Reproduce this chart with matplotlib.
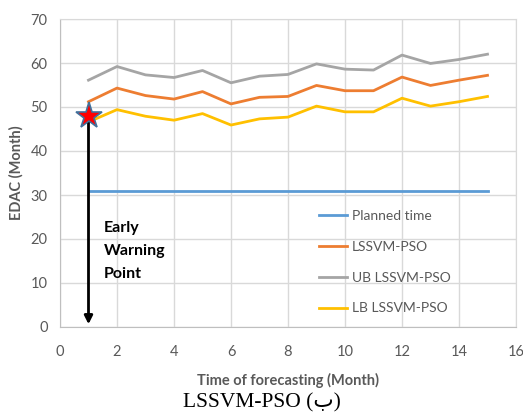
import matplotlib
matplotlib.use("Agg")
import matplotlib.pyplot as plt

months = list(range(1, 16))
planned = [31] * 15
lssvm = [51.2, 54.3, 52.6, 51.8, 53.5, 50.7, 52.2, 52.4, 54.9, 53.7, 53.7, 56.8, 54.9, 56.1, 57.2]
ub = [56.1, 59.2, 57.3, 56.7, 58.3, 55.5, 57.0, 57.4, 59.8, 58.6, 58.4, 61.8, 59.9, 60.8, 62.0]
lb = [46.6, 49.4, 47.9, 47.0, 48.5, 45.9, 47.3, 47.7, 50.2, 48.9, 48.9, 52.0, 50.2, 51.2, 52.4]
warn_x, warn_y = 1, 47.9
xticks = list(range(0, 17, 2))
yticks = list(range(0, 71, 10))

plt.rcParams['font.family'] = ['Lato', 'DejaVu Sans']
fig = plt.figure(figsize=(5.23, 4.17), dpi=100)
ax = fig.add_axes([60/523, 1-327/417, 456/523, 308/417])

ax.plot(months, planned, color='#5B9BD5', lw=2, label='Planned time')
ax.plot(months, lssvm, color='#ED7D31', lw=2, label='LSSVM-PSO')
ax.plot(months, ub, color='#A5A5A5', lw=2, label='UB LSSVM-PSO')
ax.plot(months, lb, color='#FFC000', lw=2, label='LB LSSVM-PSO')

ax.annotate('', xy=(warn_x, 0), xytext=(warn_x, warn_y),
            arrowprops=dict(arrowstyle='-|>', color='black', lw=2, mutation_scale=12))
ax.plot([warn_x], [warn_y], marker='*', ms=20, color='red', markeredgecolor='#41719C', mew=1.2, zorder=5)

ax.text(1.53, 17.3, 'Early\nWarning\nPoint', fontsize=11.5, fontweight='bold', color='black',
        va='center', ha='left', linespacing=1.85)

ax.set_xlim(0, 16)
ax.set_ylim(0, 70)
ax.set_xticks(xticks)
ax.set_yticks(yticks)
ax.grid(True, color='#D9D9D9', lw=1)
ax.set_axisbelow(True)
for s in ax.spines.values():
    s.set_color('#D9D9D9')
ax.spines['bottom'].set_color('#BFBFBF')
ax.spines['left'].set_color('#BFBFBF')
ax.tick_params(axis='x', length=0, labelsize=10.5, colors='#595959', pad=13)
ax.tick_params(axis='y', length=0, labelsize=10.5, colors='#595959', pad=9)

ax.set_xlabel('Time of forecasting (Month)', fontsize=10.5, fontweight='bold', color='#595959', labelpad=10)
ax.set_ylabel('EDAC (Month)', fontsize=10.5, fontweight='bold', color='#595959', labelpad=5)

leg = ax.legend(loc='lower left', bbox_to_anchor=(0.54, 0.0), frameon=False, fontsize=10,
                labelspacing=1.35, handlelength=2.0, handletextpad=0.4)
for t in leg.get_texts():
    t.set_color('#595959')

fig.text(0.5, 1-403/417, 'LSSVM-PSO (ب)', ha='center', va='center', fontsize=15.5,
         family=['Liberation Serif', 'DejaVu Sans'], color='black')

fig.savefig('out.png', dpi=100)
